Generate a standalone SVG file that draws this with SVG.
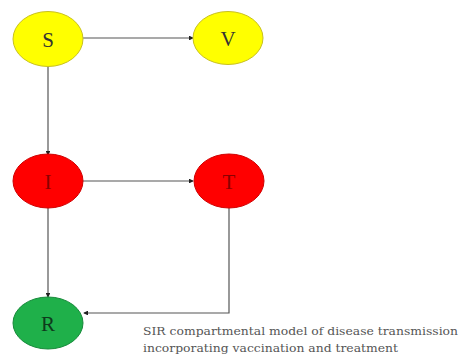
<svg xmlns="http://www.w3.org/2000/svg" width="459" height="357" viewBox="0 0 459 357">
<style>
.lbl{font-family:"Liberation Serif","DejaVu Serif",serif;font-size:21px;text-anchor:middle}
.edge{stroke:#555;stroke-width:1.2;fill:none;marker-end:url(#ah)}
.cap{font-family:"DejaVu Serif","Liberation Serif",serif;font-size:11.5px;fill:#555}
</style>
<defs>
<marker id="ah" viewBox="0 0 6 6" refX="5" refY="3" markerWidth="4" markerHeight="4" orient="auto"><path d="M0,0 L6,3 L0,6 z" fill="#222"/></marker>
</defs>
<rect width="459" height="357" fill="#fff"/>
<g id="connectors">
<path class="edge" d="M83,38 H193"/>
<path class="edge" d="M48,66 V155"/>
<path class="edge" d="M83,181 H193"/>
<path class="edge" d="M48,208 V297"/>
<path class="edge" d="M229,208 V313 H84"/>
</g>
<g id="S"><ellipse cx="48" cy="39" rx="35" ry="27.5" fill="#FFFF00" stroke="#C8C020" stroke-width="1"/><text class="lbl" x="48" y="47" fill="#333">S</text></g>
<g id="V"><ellipse cx="228" cy="38" rx="35" ry="26.5" fill="#FFFF00" stroke="#C8C020" stroke-width="1"/><text class="lbl" x="228" y="46" fill="#333">V</text></g>
<g id="I"><ellipse cx="48" cy="181" rx="35" ry="27" fill="#FF0000" stroke="#D00000" stroke-width="1"/><text class="lbl" x="48" y="189" fill="#8B0000">I</text></g>
<g id="T"><ellipse cx="229" cy="181" rx="35" ry="27" fill="#FF0000" stroke="#D00000" stroke-width="1"/><text class="lbl" x="229" y="189" fill="#8B0000">T</text></g>
<g id="R"><ellipse cx="48" cy="323" rx="35" ry="26" fill="#1FB04A" stroke="#178A3A" stroke-width="1"/><text class="lbl" x="48" y="331" fill="#0E3A1C">R</text></g>
<text class="cap" x="143" y="335" textLength="315" lengthAdjust="spacingAndGlyphs">SIR compartmental model of disease transmission</text>
<text class="cap" x="143" y="352" textLength="255" lengthAdjust="spacingAndGlyphs">incorporating vaccination and treatment</text>
</svg>
